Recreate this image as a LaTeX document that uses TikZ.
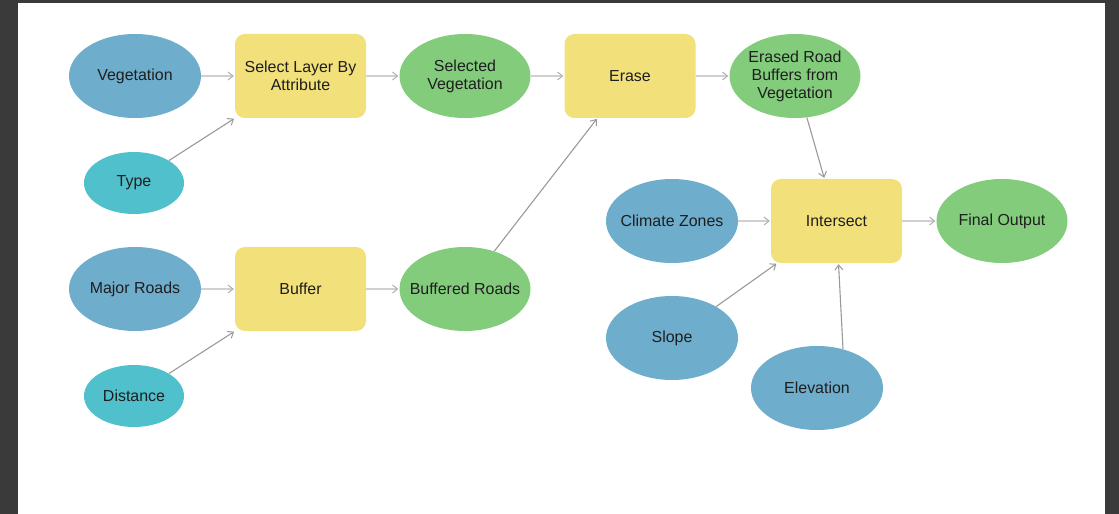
\documentclass[tikz,border=0pt]{standalone}
\usepackage{fontspec}
\setmainfont{Liberation Sans}
\usetikzlibrary{shapes.geometric,arrows.meta}
\definecolor{frame}{HTML}{3A3A3A}
\definecolor{inblue}{HTML}{6EADCB}
\definecolor{incyan}{HTML}{50C0CC}
\definecolor{outgreen}{HTML}{82CC7C}
\definecolor{toolyellow}{HTML}{F2E07A}
\definecolor{txt}{HTML}{1E1E1E}
\definecolor{lightline}{HTML}{D0D0D0}
\definecolor{darkline}{HTML}{9A9A9A}
\tikzset{
  lbl/.style={font=\fontsize{16}{18}\selectfont, text=txt, align=center},
  ell/.style={lbl, ellipse, draw=none, inner xsep=-12bp, inner ysep=0pt},
  inputdata/.style={ell, fill=inblue, minimum width=132bp, minimum height=84bp},
  inputvalue/.style={ell, fill=incyan, minimum width=100bp, minimum height=62bp},
  outdata/.style={ell, fill=outgreen, minimum width=131bp, minimum height=84bp},
  tool/.style={lbl, rectangle, rounded corners=10bp, fill=toolyellow, draw=none, inner sep=0pt, minimum width=131bp, minimum height=84bp},
  flow/.style={draw=lightline, line width=1.1bp, -{Straight Barb[length=5bp,width=8bp,line width=1bp,color=darkline!80]}, shorten >=1bp},
  param/.style={draw=darkline, line width=1.1bp, -{Straight Barb[length=5bp,width=8bp,line width=1bp]}, shorten >=1bp}
}
\begin{document}
\begin{tikzpicture}[x=1bp,y=-1bp]
\useasboundingbox (0,0) rectangle (1119,514);
\fill[frame] (0,0) rectangle (1119,514);
\fill[white] (18,3) rectangle (1105,514);

\node[inputdata] (veg) at (135,76) {Vegetation};
\node[tool] (sel) at (300.5,76) {Select Layer By\\Attribute};
\node[inputvalue] (type) at (134,183) {Type};
\node[outdata] (selveg) at (465,76) {Selected\\Vegetation};
\node[tool] (erase) at (630,76) {Erase};
\node[outdata] (erased) at (795,76) {Erased Road\\Buffers from\\Vegetation};

\node[inputdata] (roads) at (135,289) {Major Roads};
\node[tool] (buffer) at (300.5,289) {Buffer};
\node[outdata] (buffered) at (465,289) {Buffered Roads};
\node[inputvalue] (dist) at (134,396) {Distance};

\node[inputdata] (climate) at (672,221) {Climate Zones};
\node[tool] (inter) at (836.5,221) {Intersect};
\node[outdata] (final) at (1002,221) {Final Output};
\node[inputdata] (slope) at (672,338) {Slope};
\node[inputdata] (elev) at (817,388) {Elevation};

\draw[flow] (veg) -- (sel);
\draw[flow] (sel) -- (selveg);
\draw[flow] (selveg) -- (erase);
\draw[flow] (erase) -- (erased);
\draw[param] (type) -- (sel);
\draw[flow] (roads) -- (buffer);
\draw[flow] (buffer) -- (buffered);
\draw[param] (dist) -- (buffer);
\draw[param] (buffered) -- (erase);
\draw[param] (erased) -- (inter);
\draw[flow] (climate) -- (inter);
\draw[flow] (inter) -- (final);
\draw[param] (slope) -- (inter);
\draw[param] ([xshift=26bp,yshift=-3bp]elev.north) -- ([xshift=2bp]inter.south);
\end{tikzpicture}
\end{document}
